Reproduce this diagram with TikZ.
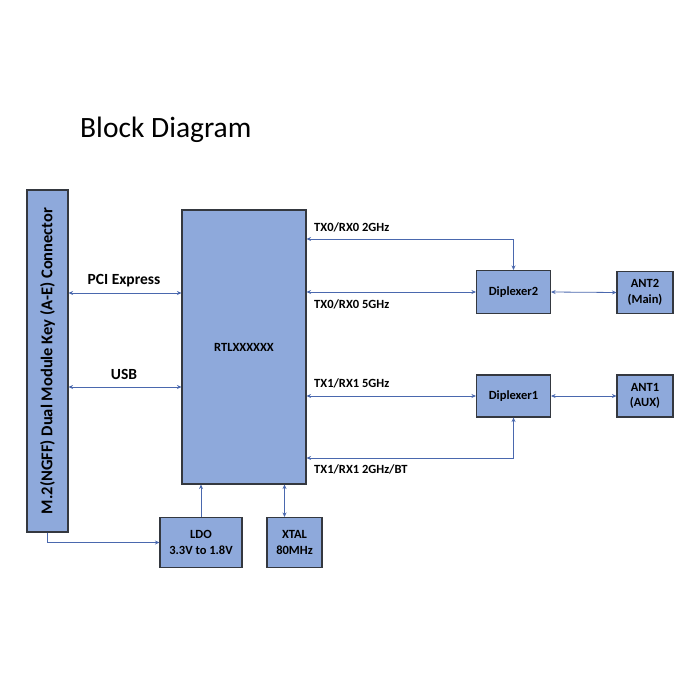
\documentclass[tikz,border=0pt]{standalone}
\usepackage{fontspec}
\setmainfont{Carlito}
\usetikzlibrary{arrows.meta}
\definecolor{boxblue}{HTML}{8EA9DB}
\definecolor{boxedge}{HTML}{34383F}
\definecolor{linkblue}{HTML}{4A68AE}
\tikzset{
  blk_node/.style = {align=center, inner sep=0pt, text centered,
    font=\bfseries\fontsize{12.5}{15.5}\selectfont, fill=boxblue, draw=boxedge, line width=1.1pt},% bloc
  sig_link/.style = {draw=linkblue, thick, {Stealth[length=4.5pt,width=4pt]}-{Stealth[length=4.5pt,width=4pt]}},% liaison double
  pwr_link/.style = {draw=linkblue, thick, -{Stealth[length=4.5pt,width=4pt]}},% liaison simple
  sig_label/.style = {font=\bfseries\fontsize{12.5}{14}\selectfont, inner sep=0pt, anchor=west}
}
\begin{document}
\begin{tikzpicture}[x=1pt, y=-1pt]
  \useasboundingbox[fill=white] (0,0) rectangle (700,700);
  \node [anchor=west, font=\fontsize{29.5}{34}\selectfont, inner sep=0pt] (title) at (80,130) {Block Diagram};
  % blocs
  \node [blk_node, minimum width=41pt, minimum height=342pt] (conn) at (47.5,361)
    {\rotatebox{90}{\fontsize{16.5}{18}\selectfont M.2(NGFF) Dual Module Key (A-E) Connector}};
  \node [blk_node, minimum width=124pt, minimum height=274pt] (rtl) at (244,347) {RTLXXXXXX};
  \node [blk_node, minimum width=82pt, minimum height=50pt] (ldo) at (201,542.5) {LDO\\3.3V to 1.8V};
  \node [blk_node, minimum width=55pt, minimum height=50pt] (xtal) at (294.5,542.5) {XTAL\\80MHz};
  \node [blk_node, minimum width=74pt, minimum height=43pt] (dip2) at (513.5,292) {Diplexer2};
  \node [blk_node, minimum width=74pt, minimum height=42pt] (dip1) at (513.5,396) {Diplexer1};
  \node [blk_node, minimum width=56pt, minimum height=42pt] (ant2) at (645,292.5) {ANT2\\(Main)};
  \node [blk_node, minimum width=56pt, minimum height=42pt] (ant1) at (645,396) {ANT1\\(AUX)};
  % liaisons
  \coordinate (pcie) at (0,293);
  \coordinate (usb) at (0,387);
  \coordinate (tx0a) at (0,239);
  \coordinate (tx1b) at (0,458);
  \draw [sig_link] (conn.east |- pcie) -- (rtl.west |- pcie);
  \draw [sig_link] (conn.east |- usb) -- (rtl.west |- usb);
  \draw [sig_link] (rtl.east |- tx0a) -| (dip2.north);
  \draw [sig_link] (rtl.east |- dip2.west) -- (dip2.west);
  \draw [sig_link] (rtl.east |- dip1.west) -- (dip1.west);
  \draw [sig_link] (rtl.east |- tx1b) -| (dip1.south);
  \draw [sig_link] (dip2.east) -- (ant2.west);
  \draw [sig_link] (dip1.east) -- (ant1.west);
  \draw [pwr_link] (ldo.north) -- (ldo.north |- rtl.south);
  \draw [sig_link] ([xshift=-10pt]xtal.north) -- ([xshift=-10pt]xtal.north |- rtl.south);
  \draw [pwr_link] (conn.south) |- (ldo.west);
  % textes
  \node [font=\bfseries\fontsize{15.5}{17}\selectfont, inner sep=0pt] (pcielbl) at (124,281) {PCI Express};
  \node [font=\bfseries\fontsize{15.5}{17}\selectfont, inner sep=0pt] (usblbl) at (124,374) {USB};
  \node [sig_label] (tx0albl) at (314,227) {TX0/RX0 2GHz};
  \node [sig_label] (tx0blbl) at (314,304) {TX0/RX0 5GHz};
  \node [sig_label] (tx1albl) at (314,383) {TX1/RX1 5GHz};
  \node [sig_label] (tx1blbl) at (314,469) {TX1/RX1 2GHz/BT};
\end{tikzpicture}
\end{document}
